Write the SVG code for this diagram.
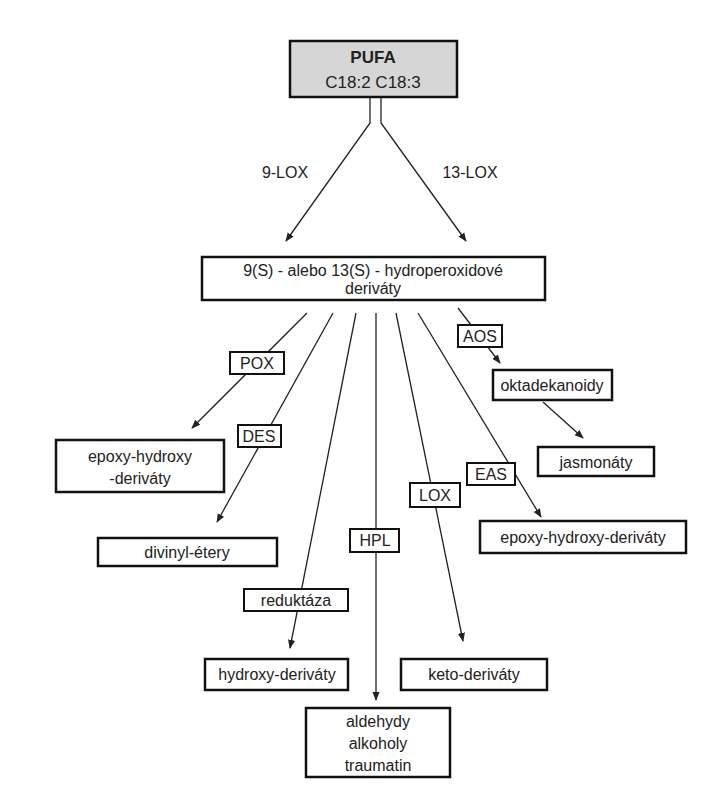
<svg xmlns="http://www.w3.org/2000/svg" width="709" height="800" viewBox="0 0 709 800">
<style>
text{font-family:"Liberation Sans",Arial,sans-serif;font-size:16px;fill:#222;text-anchor:middle}
.b{fill:#fff;stroke:#111;stroke-width:2.5}
.l{fill:#fff;stroke:#111;stroke-width:2}
.c{fill:none;stroke:#222;stroke-width:1.3}
</style>
<defs><marker id="a" viewBox="0 0 10 10" refX="9" refY="5" markerWidth="9" markerHeight="9" markerUnits="userSpaceOnUse" orient="auto"><path d="M0,1 L10,5 L0,9 Z" fill="#222"/></marker></defs>
<rect width="709" height="800" fill="#fff"/>
<g id="connectors">
<path class="c" d="M370,97 V123 L286,241" marker-end="url(#a)"/>
<path class="c" d="M381,97 V123 L466,241" marker-end="url(#a)"/>
<path class="c" d="M307,313 L192,428" marker-end="url(#a)"/>
<path class="c" d="M333,313 L217,522" marker-end="url(#a)"/>
<path class="c" d="M356,313 L290,648" marker-end="url(#a)"/>
<path class="c" d="M376,313 V700" marker-end="url(#a)"/>
<path class="c" d="M396,313 L463,641" marker-end="url(#a)"/>
<path class="c" d="M418,313 L541,517" marker-end="url(#a)"/>
<path class="c" d="M458,308 L500,363" marker-end="url(#a)"/>
<path class="c" d="M543,402 L583,438" marker-end="url(#a)"/>
</g>
<g id="lbl-9lox"><text x="285" y="178">9-LOX</text></g>
<g id="lbl-13lox"><text x="470" y="178">13-LOX</text></g>
<g id="pufa"><rect x="290" y="41" width="167" height="56" fill="#d6d6d6" stroke="#111" stroke-width="2.5"/><text x="373" y="63" font-weight="bold" style="font-size:17px">PUFA</text><text x="373" y="88" style="font-size:17px">C18:2   C18:3</text></g>
<g id="hydroperox"><rect class="b" x="202" y="257" width="343" height="43"/><text x="373" y="276">9(S) - alebo 13(S) - hydroperoxidové</text><text x="373" y="294">deriváty</text></g>
<g id="pox"><rect class="l" x="230" y="352" width="54" height="22"/><text x="257" y="369">POX</text></g>
<g id="des"><rect class="l" x="238" y="425" width="43" height="22"/><text x="259" y="442">DES</text></g>
<g id="reduktaza"><rect class="l" x="244" y="589" width="104" height="22"/><text x="296" y="606">reduktáza</text></g>
<g id="hpl"><rect class="l" x="350" y="529" width="49" height="23"/><text x="375" y="546">HPL</text></g>
<g id="lox"><rect class="l" x="410" y="483" width="50" height="24"/><text x="435" y="501">LOX</text></g>
<g id="eas"><rect class="l" x="467" y="463" width="48" height="22"/><text x="491" y="480">EAS</text></g>
<g id="aos"><rect class="l" x="458" y="325" width="44" height="22"/><text x="480" y="342">AOS</text></g>
<g id="oktadekanoidy"><rect class="b" x="493" y="370" width="119" height="30"/><text x="552" y="391">oktadekanoidy</text></g>
<g id="jasmonaty"><rect class="b" x="538" y="447" width="116" height="29"/><text x="596" y="468">jasmonáty</text></g>
<g id="epoxy-left"><rect class="b" x="56" y="440" width="168" height="52"/><text x="140" y="462">epoxy-hydroxy</text><text x="140" y="484">-deriváty</text></g>
<g id="divinyl"><rect class="b" x="98" y="538" width="179" height="28"/><text x="187" y="558">divinyl-étery</text></g>
<g id="epoxy-right"><rect class="b" x="480" y="521" width="206" height="32"/><text x="583" y="543">epoxy-hydroxy-deriváty</text></g>
<g id="hydroxy"><rect class="b" x="205" y="659" width="143" height="31"/><text x="277" y="680">hydroxy-deriváty</text></g>
<g id="keto"><rect class="b" x="401" y="659" width="146" height="31"/><text x="474" y="680">keto-deriváty</text></g>
<g id="aldehydy"><rect class="b" x="306" y="708" width="144" height="69"/><text x="378" y="727">aldehydy</text><text x="378" y="749">alkoholy</text><text x="378" y="771">traumatin</text></g>
</svg>
